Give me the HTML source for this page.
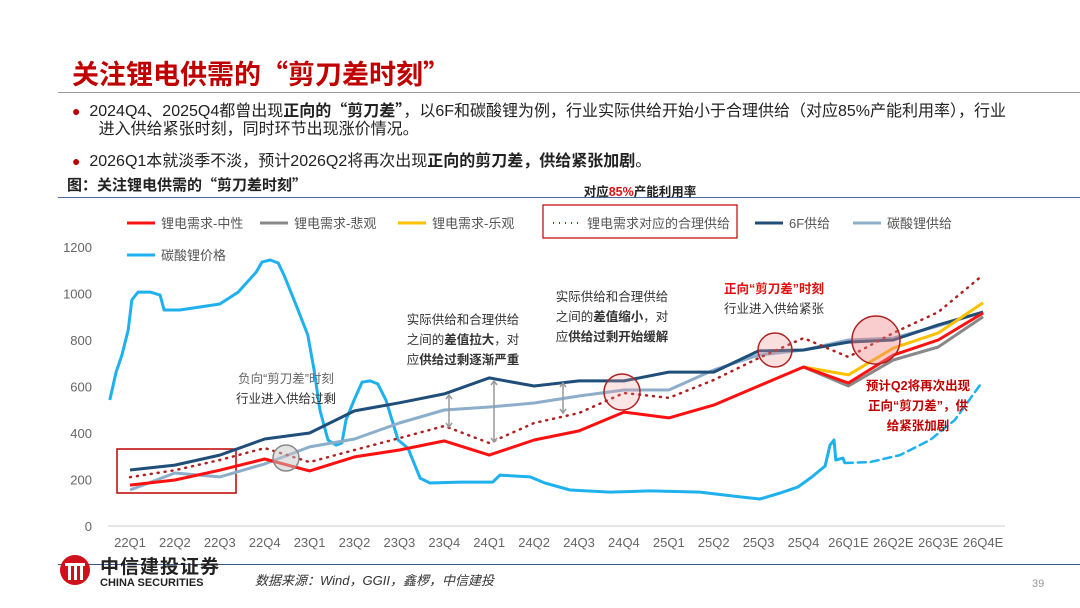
<!DOCTYPE html>
<html><head><meta charset="utf-8">
<style>
body{margin:0;width:1080px;height:608px;overflow:hidden;background:#fff;font-family:"Liberation Sans","Noto Sans CJK SC",sans-serif;position:relative}
.t{position:absolute;white-space:nowrap}
.q{font-family:"Noto Sans CJK SC",sans-serif}
</style></head><body>
<div class="t" style="left:72px;top:53px;font-size:27px;font-weight:bold;color:#c00000">关注锂电供需的<span class="q">“</span>剪刀差时刻<span class="q">”</span></div>
<div style="position:absolute;left:58px;top:92px;width:1022px;height:1px;background:#999"></div>
<div class="t" style="left:72px;top:100px;font-size:16px;line-height:18px;color:#222"><span style="color:#c00000;font-size:14px">●</span>&nbsp;&nbsp;2024Q4、2025Q4都曾出现<b>正向的<span class="q">“</span>剪刀差<span class="q">”</span></b>，以6F和碳酸锂为例，行业实际供给开始小于合理供给（对应85%产能利用率），行业<br>&nbsp;&nbsp;&nbsp;&nbsp;&nbsp; 进入供给紧张时刻，同时环节出现涨价情况。</div>
<div class="t" style="left:72px;top:147px;font-size:16px;color:#222"><span style="color:#c00000;font-size:14px">●</span>&nbsp;&nbsp;2026Q1本就淡季不淡，预计2026Q2将再次出现<b>正向的剪刀差，供给紧张加剧</b>。</div>
<div class="t" style="left:67px;top:174px;font-size:15px;font-weight:bold;color:#222">图：关注锂电供需的<span class="q">“</span>剪刀差时刻<span class="q">”</span></div>
<div style="position:absolute;left:58px;top:197px;width:1022px;height:1px;background:#4a6a9a"></div>
<svg id="chart" width="1080" height="608" style="position:absolute;left:0;top:0" font-family="Liberation Sans, Noto Sans CJK SC, sans-serif"></svg>
<div style="position:absolute;left:58px;top:564px;width:1022px;height:1px;background:#3a5a8a"></div>
<svg style="position:absolute;left:58px;top:553px" width="34" height="34"><circle cx="17" cy="17" r="15" fill="#d0101b"/><rect x="7" y="10" width="20" height="3" fill="#fff"/><rect x="10" y="13" width="3" height="14" fill="#fff"/><rect x="16" y="13" width="3" height="14" fill="#fff"/><rect x="22" y="13" width="3" height="14" fill="#fff"/></svg>
<div class="t" style="left:100px;top:552px;font-size:19px;font-weight:bold;color:#222;letter-spacing:1px">中信建投证券</div>
<div class="t" style="left:100px;top:577px;font-size:11px;font-weight:bold;color:#222">CHINA SECURITIES</div>
<div class="t" style="left:255px;top:570px;font-size:13px;font-style:italic;color:#333">数据来源：Wind，GGII，鑫椤，中信建投</div>
<div class="t" style="left:1032px;top:578px;font-size:11px;color:#999">39</div>
<script>
const categories=["22Q1","22Q2","22Q3","22Q4","23Q1","23Q2","23Q3","23Q4","24Q1","24Q2","24Q3","24Q4","25Q1","25Q2","25Q3","25Q4","26Q1E","26Q2E","26Q3E","26Q4E"];
const yTicks=[0,200,400,600,800,1000,1200];
const demandNeutral=[176,198,240,288,237,297,327,366,305,370,409,490,465,520,602,684,615,735,800,916];
const demandPessimistic=[null,null,null,null,null,null,null,null,null,null,null,null,null,null,null,684,602,714,770,900];
const demandOptimistic=[null,null,null,null,null,null,null,null,null,null,null,null,null,null,null,684,650,765,830,960];
const reasonableSupply=[210,240,284,335,275,327,378,430,357,443,486,572,551,628,722,808,727,830,920,1080];
const supply6F=[241,262,305,374,400,495,530,568,637,602,624,624,662,662,753,757,791,800,865,920];
const supplyLi2CO3=[155,228,211,267,340,374,443,499,512,529,559,585,585,671,735,757,800,808,860,920];
const priceX=[-0.45,-0.31,-0.18,-0.04,0.04,0.18,0.45,0.67,0.76,1.11,1.56,2.0,2.41,2.81,2.94,3.12,3.30,3.43,3.70,3.96,4.10,4.23,4.41,4.59,4.72,4.81,4.99,5.17,5.35,5.52,5.70,5.97,6.19,6.46,6.68,7.35,8.08,8.24,8.91,9.24,9.80,10.69,11.58,12.69,13.59,14.03,14.48,14.88,15.19,15.48,15.59,15.68,15.72,15.88,15.92];
const priceY=[542,662,735,843,972,1006,1006,993,929,929,942,955,1006,1092,1135,1144,1131,1079,950,821,671,499,370,348,357,456,542,619,624,611,542,370,335,206,185,189,189,219,211,185,155,146,151,146,125,116,142,168,211,258,348,370,284,292,271];
const priceFcX=[15.92,16.48,17.15,17.82,18.37,18.93];
const priceFcY=[271,275,305,370,456,606];

const svg=document.getElementById('chart');const NS='http://www.w3.org/2000/svg';
const X=i=>130+i*44.9, Y=v=>526-v*0.2325;
function el(tag,attrs,parent){const e=document.createElementNS(NS,tag);for(const k in attrs)e.setAttribute(k,attrs[k]);(parent||svg).appendChild(e);return e;}
function txt(s,x,y,size,fill,extra){const t=el('text',Object.assign({x:x,y:y,'font-size':size,fill:fill},extra||{}));t.innerHTML=s;return t;}
const ax=el('line',{x1:108,x2:1005,y1:526,y2:526,stroke:'#ccc'});

yTicks.forEach(v=>{const t=txt(v,92,Y(v)+5,13,'#666',{'text-anchor':'end'});
});
categories.forEach((c,i)=>{const t=txt(c,X(i),547,13,'#666',{'text-anchor':'middle'});
});
function line(data,xs,color,w,dash,name){const pts=[];data.forEach((v,i)=>{if(v!=null)pts.push((xs?X(xs[i]):X(i)).toFixed(1)+','+Y(v).toFixed(1));});
const p=el('polyline',{points:pts.join(' '),fill:'none',stroke:color,'stroke-width':w,'stroke-linejoin':'round','stroke-linecap':dash?'round':'butt'});if(dash)p.setAttribute('stroke-dasharray',dash);
return p;}
const box=el('rect',{x:117,y:449,width:119,height:44,fill:'none',stroke:'#c00000','stroke-width':1.5});

line(priceY,priceX,'#1fb0ee',3,null,'price-line');
line(priceFcY,priceFcX,'#1fb0ee',2.5,'8,5','price-forecast-line');
line(supplyLi2CO3,null,'#8caecb',3,null,'li2co3-supply-line');
line(supply6F,null,'#1f4e79',3,null,'6f-supply-line');
line(demandPessimistic,null,'#888',3,null,'demand-pessimistic-line');
line(demandOptimistic,null,'#ffc000',3,null,'demand-optimistic-line');
line(demandNeutral,null,'#ff1010',3,null,'demand-neutral-line');
line(reasonableSupply,null,'#b02020',2.5,'1,6','reasonable-supply-line');
[[286,458,13,'rgba(200,200,200,0.5)','#888'],[622,392,18,'rgba(240,150,150,0.25)','#b02020'],[775,350,17,'rgba(240,150,150,0.3)','#b02020'],[876,340,24,'rgba(240,130,130,0.4)','#b02020']].forEach(c=>{
const e=el('circle',{cx:c[0],cy:c[1],r:c[2],fill:c[3],stroke:c[4],'stroke-width':1.5});
});
[[449,395,427],[494,381,442],[563,383,413]].forEach(a=>{
const g=el('g',{stroke:'#999','stroke-width':1.5,fill:'none'});

el('line',{x1:a[0],x2:a[0],y1:a[1],y2:a[2]},g);
el('polyline',{points:`${a[0]-3},${a[1]+4} ${a[0]},${a[1]} ${a[0]+3},${a[1]+4}`},g);
el('polyline',{points:`${a[0]-3},${a[2]-4} ${a[0]},${a[2]} ${a[0]+3},${a[2]-4}`},g);});
function ann(lines,x,y,name,anchor){const g=el('g',{});
lines.forEach((l,i)=>{const t=el('text',{x:x,y:y+i*20,'font-size':12.5,fill:l[1]||'#333','text-anchor':anchor||'middle'},g);t.innerHTML=l[0];});}
ann([['负向“剪刀差”时刻','#666'],['行业进入供给过剩']],286,383,'negative-scissors-note');
ann([['实际供给和合理供给'],['之间的<tspan font-weight="bold">差值拉大</tspan>，对'],['应<tspan font-weight="bold">供给过剩逐渐严重</tspan>']],463,324,'gap-widen-note');
ann([['实际供给和合理供给'],['之间的<tspan font-weight="bold">差值缩小</tspan>，对'],['应<tspan font-weight="bold">供给过剩开始缓解</tspan>']],612,301,'gap-narrow-note');
ann([['<tspan font-weight="bold">正向“剪刀差”时刻</tspan>','#e01010'],['行业进入供给紧张']],774,293,'positive-scissors-note');
ann([['<tspan font-weight="bold">预计Q2将再次出现</tspan>','#c00000'],['<tspan font-weight="bold">正向“剪刀差”，供</tspan>','#c00000'],['<tspan font-weight="bold">给紧张加剧</tspan>','#c00000']],918,390,'forecast-note');
const lg=[['#ff1010',null,'锂电需求-中性',127],['#888',null,'锂电需求-悲观',260],['#ffc000',null,'锂电需求-乐观',398],['#b02020','1,5','锂电需求对应的合理供给',553],['#1f4e79',null,'6F供给',755],['#8caecb',null,'碳酸锂供给',853],['#1fb0ee',null,'碳酸锂价格',127]];
lg.forEach((l,i)=>{const g=el('g',{});
const y=i==6?255:223;const ln=el('line',{x1:l[3],x2:l[3]+28,y1:y,y2:y,stroke:l[0],'stroke-width':i==3?2:3},g);if(l[1])ln.setAttribute('stroke-dasharray',l[1]);
const t=el('text',{x:l[3]+34,y:y+5,'font-size':13,fill:'#555'},g);t.textContent=l[2];});
const lb=el('rect',{x:543,y:205,width:194,height:33,fill:'none',stroke:'#c00000','stroke-width':1.2});

const lt=txt('对应<tspan fill="#e01010">85%</tspan>产能利用率',640,196,12.5,'#222',{'text-anchor':'middle','font-weight':'bold'});

</script>
</body></html>
